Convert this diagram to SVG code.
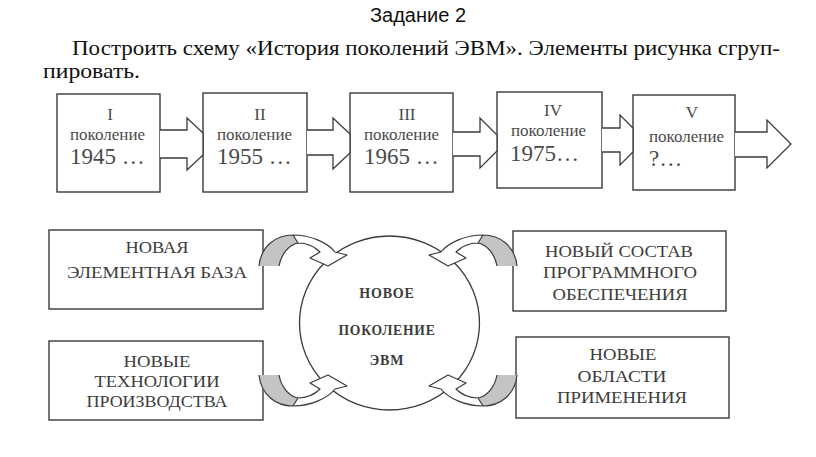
<svg xmlns="http://www.w3.org/2000/svg" xmlns:xlink="http://www.w3.org/1999/xlink" width="816" height="457" viewBox="0 0 816 457">
<style>
.box{fill:#fff;stroke:#3a3a3a;stroke-width:1.4}
.arr{fill:#fff;stroke:#3a3a3a;stroke-width:1.3;stroke-linejoin:miter}
.s{font-family:"Liberation Serif",serif;fill:#4a4a4a}
.num{font-size:17px;text-anchor:middle}
.pk{font-size:17px}
.yr{font-size:23px}
.cap{font-size:17px;text-anchor:middle;fill:#3c3c3c}
.ctr{font-size:14px;font-weight:bold;text-anchor:middle;fill:#3c3c3c;letter-spacing:0.8px}
</style>
<defs>
<g id="ca">
<path d="M 259 266 C 261 246, 276 235, 293 235 C 311 235, 328 243, 335 252 L 347 255 L 328 266 L 310 258 L 320 252 C 314 246, 306 243, 298 243 C 288 245, 281 255, 279 266 Z" fill="#fff" stroke="none"/>
<path d="M 259 266 C 261 246, 276 235, 293 235 L 298 243 C 288 245, 281 255, 279 266 Z" fill="#c4c4c4" stroke="none"/>
<path d="M 259 266 C 261 246, 276 235, 293 235 C 311 235, 328 243, 335 252 L 347 255 L 328 266 L 310 258 L 320 252 C 314 246, 306 243, 298 243 C 288 245, 281 255, 279 266 M 293 235 L 298 243" fill="none" stroke="#3a3a3a" stroke-width="1.2" stroke-linejoin="round"/>
</g>
</defs>
<rect width="816" height="457" fill="#fff"/>
<g id="title">
<text x="418" y="22" font-family="'Liberation Sans',Arial,sans-serif" font-size="20" text-anchor="middle" fill="#111">Задание 2</text>
<text x="72" y="55" font-family="'Liberation Serif',serif" font-size="22" fill="#111" textLength="708" lengthAdjust="spacingAndGlyphs">Построить схему «История поколений ЭВМ». Элементы рисунка сгруп-</text>
<text x="43" y="78" font-family="'Liberation Serif',serif" font-size="22" fill="#111" textLength="97" lengthAdjust="spacingAndGlyphs">пировать.</text>
</g>
<g id="gen1">
<rect class="box" x="57" y="94" width="103" height="98"/>
<text class="s num" x="110" y="120">I</text>
<text class="s pk" x="70" y="140">поколение</text>
<text class="s yr" x="70" y="164">1945 …</text>
</g>
<g id="gen2">
<rect class="box" x="203" y="93" width="104" height="99"/>
<text class="s num" x="260" y="120">II</text>
<text class="s pk" x="217" y="140">поколение</text>
<text class="s yr" x="217" y="164">1955 …</text>
</g>
<g id="gen3">
<rect class="box" x="350" y="93" width="103" height="99"/>
<text class="s num" x="407" y="120">III</text>
<text class="s pk" x="364" y="140">поколение</text>
<text class="s yr" x="364" y="164">1965 …</text>
</g>
<g id="gen4">
<rect class="box" x="497" y="92" width="105" height="96"/>
<text class="s num" x="553" y="116">IV</text>
<text class="s pk" x="511" y="136">поколение</text>
<text class="s yr" x="510" y="161">1975…</text>
</g>
<g id="gen5">
<rect class="box" x="633" y="95" width="102" height="95"/>
<text class="s num" x="692" y="118">V</text>
<text class="s pk" x="649" y="142">поколение</text>
<text class="s yr" x="649" y="166">?…</text>
</g>
<g id="base">
<rect class="box" x="49" y="230" width="214" height="79"/>
<text class="s cap" x="157" y="253" textLength="63" lengthAdjust="spacingAndGlyphs">НОВАЯ</text>
<text class="s cap" x="157" y="278" textLength="180" lengthAdjust="spacingAndGlyphs">ЭЛЕМЕНТНАЯ БАЗА</text>
</g>
<g id="software">
<rect class="box" x="513" y="231" width="213" height="80"/>
<text class="s cap" x="619" y="257" textLength="148" lengthAdjust="spacingAndGlyphs">НОВЫЙ СОСТАВ</text>
<text class="s cap" x="620" y="278" textLength="154" lengthAdjust="spacingAndGlyphs">ПРОГРАММНОГО</text>
<text class="s cap" x="620" y="300" textLength="135" lengthAdjust="spacingAndGlyphs">ОБЕСПЕЧЕНИЯ</text>
</g>
<g id="tech">
<rect class="box" x="49" y="341" width="214" height="79"/>
<text class="s cap" x="157" y="367" textLength="67" lengthAdjust="spacingAndGlyphs">НОВЫЕ</text>
<text class="s cap" x="157" y="387" textLength="125" lengthAdjust="spacingAndGlyphs">ТЕХНОЛОГИИ</text>
<text class="s cap" x="157" y="407" textLength="141" lengthAdjust="spacingAndGlyphs">ПРОИЗВОДСТВА</text>
</g>
<g id="areas">
<rect class="box" x="516" y="337" width="213" height="81"/>
<text class="s cap" x="623" y="360" textLength="67" lengthAdjust="spacingAndGlyphs">НОВЫЕ</text>
<text class="s cap" x="622" y="382" textLength="89" lengthAdjust="spacingAndGlyphs">ОБЛАСТИ</text>
<text class="s cap" x="622" y="403" textLength="130" lengthAdjust="spacingAndGlyphs">ПРИМЕНЕНИЯ</text>
</g>
<g id="center">
<ellipse cx="389.5" cy="323" rx="90" ry="87" fill="#fff" stroke="#3a3a3a" stroke-width="1.3"/>
<text class="s ctr" x="387" y="298">НОВОЕ</text>
<text class="s ctr" x="387" y="335" textLength="97" lengthAdjust="spacingAndGlyphs">ПОКОЛЕНИЕ</text>
<text class="s ctr" x="387" y="365">ЭВМ</text>
</g>
<g id="connectors">
<path class="arr" d="M 160 130 H 187 V 118 L 203 133 L 203 155 L 187 170 V 158 H 160"/>
<path class="arr" d="M 307 130 H 333 V 118 L 350 134 L 350 153 L 333 169 V 155 H 307"/>
<path class="arr" d="M 453 132 H 480 V 118 L 497 135 L 497 151 L 480 168 V 156 H 453"/>
<path class="arr" d="M 602 128 H 620 V 115 L 633 128 L 633 152 L 620 165 V 152 H 602"/>
<path class="arr" d="M 735 132 H 767 V 120 L 791 144 L 767 168 V 157 H 735"/>
<use xlink:href="#ca" href="#ca"/>
<use xlink:href="#ca" href="#ca" transform="translate(776,0) scale(-1,1)"/>
<use xlink:href="#ca" href="#ca" transform="translate(0,641) scale(1,-1)"/>
<use xlink:href="#ca" href="#ca" transform="translate(776,641) scale(-1,-1)"/>
</g>
</svg>
